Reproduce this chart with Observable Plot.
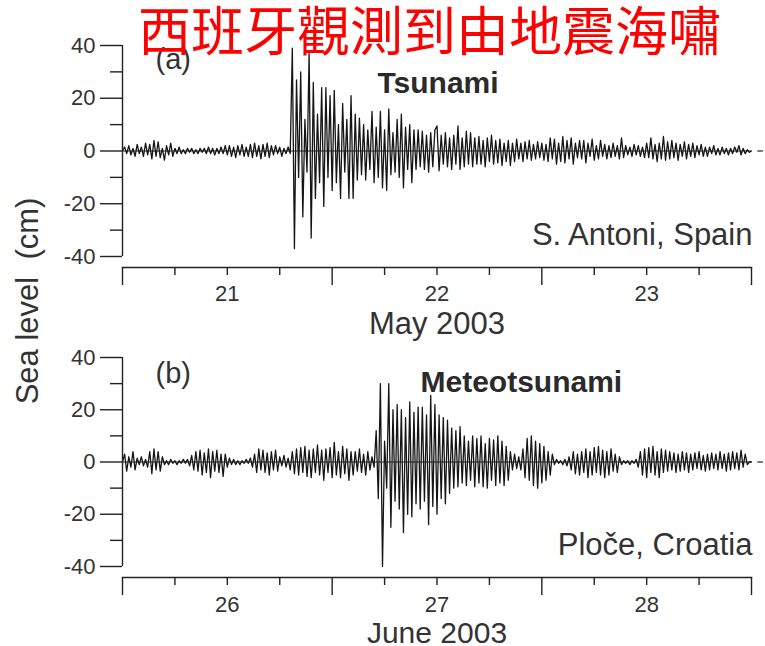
<!DOCTYPE html>
<html><head><meta charset="utf-8">
<script src="https://cdn.jsdelivr.net/npm/d3@7"></script>
<script src="https://cdn.jsdelivr.net/npm/@observablehq/plot@0.6"></script>
<style>
body{margin:0;background:#fff;}
#wrap{position:relative;width:765px;height:646px;overflow:hidden;font-family:"Liberation Sans",Arial,sans-serif;}
#title{position:absolute;left:138px;top:2px;font-family:"Noto Sans CJK TC","Noto Sans CJK SC",sans-serif;font-size:53px;line-height:1;color:#ff0000;white-space:nowrap;z-index:5;}
#ylab{position:absolute;left:28px;top:301px;transform:translate(-50%,-50%) rotate(-90deg);font-size:31px;color:#333;white-space:pre;z-index:4;}
.panel{position:absolute;left:0;}
</style></head>
<body><div id="wrap">
<div id="title">西班牙觀測到由地震海嘯</div>
<div id="ylab">Sea level  (cm)</div>
<div id="pa" class="panel" style="top:0"></div>
<div id="pb" class="panel" style="top:330px"></div>
</div>
<script>
// ---- data (cm), sampled every 0.01 day ----
const stepDay = 0.01;
const startA = 20.5;   // May 2003
const startB = 25.5;   // June 2003
const daysA = [21, 22, 23];
const daysB = [26, 27, 28];
const monthA = "May 2003";
const monthB = "June 2003";
const tsunami = [
0,1.5,-1,2,-1.5,1,-2,2.5,-1,1.5,
-2,3,-1.5,2.5,-3,4,-2,3.5,-2.5,1,
-3.5,2,-1.5,3,-2,1,-1,1.5,-1,0.5,
-1,1,-0.5,1,-1,0.5,-1,1,-0.5,1,
-1,1.5,-1,1,-1.5,1,-1,1.5,-1,2,
-1.5,2,-2,1.5,-2.5,2,-1.5,2.5,-2,1.5,
-2,2.5,-2.5,3,-2,2,-3,2.5,-2,3,
-2.5,2,-1.5,2,-1,1.5,-2,1,-1,1.5,
-1,39,-37,27,-10,30,-25,12,-8,37,
-33,26,-18,14,-12,24,-21,24,-10,21,
-15,23,-12,10,-18,18,-8,12,-18,21,
-18,14,-11,12.5,-9,10,-11,8,-7,15,
-12,9,-10,15,-14,8,-15,16,-9,7,
-8,12,-10,14,-14,9,-7,10,-12,8,
-7,8,-6,7.5,-7,6,-8,7,-6,8,
9.5,-7.5,6,-5,7,-6,5,-7,6,-5,
9.5,-7,5,-6,7.5,-5,7,-6,5,-5,
5.5,-5,4,-6,5,-4,6,-5,4,-4.5,
4.5,-5.5,3,-4,4,-5.5,3,-4,4.5,-3,
3,-4,3.5,-3,4,-3.5,2.5,-3,3.5,-2.5,
3,-3.5,2.5,-4,5,-3,4.5,-5,3,-4,
5.5,-4.5,4,-3,5,-5,3,-2.5,4,-3,
4,-4.5,3,-2,4.5,-3.5,2,-3,4,-2,
2.5,-3,2,-2.5,3,-2,2,-3,5,-2.5,
2,-1.5,1.5,-2,2.5,-1.5,2,-2,1.5,-2.5,
3,-2.5,5,-3,2.5,-4,3,-3,5.5,-3.5,
3.5,-3,4,-2.5,3,-3.5,2.5,-2,3.5,-3,
2.5,-2,3,-2.5,2,-1.5,2.5,-2,1.5,-2,
1.5,-1,2,-1.5,1,-1.5,1.5,-1,1,-1.5,
1,-1,1.5,-0.5,2,-1.5,1,-1,0.5,-0.5,
0];
const meteotsunami = [
0,3,-3.5,2,-2,4,-3,1.5,-1,2,
-1.5,1,-2,4,-4.5,5,-3,4,-3.5,2,
-1,0.5,-1,1,-0.5,0.5,-1,0.5,-0.5,1,
-0.5,1,-1.5,2.5,-3,4,-3.5,4.5,-5,3.5,
-4,5,-6,4,-3.5,4.5,-4,3,-5.5,3,
-2,1.5,-1,1,-1,0.5,-1,0.5,-0.5,1,
-0.5,1.5,-2,3,-4,5,-3,4.5,-4,3.5,
-5,4,-3,4.5,-3.5,2,-1.5,2.5,-2,1.5,
-3,4,-4.5,5,-5,5.5,-4,6,-5.5,4.5,
-6,5,-4,6.5,-5,4.5,-7,5,-4,5.5,
-6,7.5,-5,4,-6,6,-4.5,5,-7,4,
-5,4,-3.5,5,-4,3,-5,4,-3,2,
-2,12,-14,30,-40,8,-10,30,-25,20,
-15,22,-18,20,-27,17,-20,23,-21,19,
-16,21,-18,21,-15,18,-24,25.5,-17,22,
-20,18,-14,17,-16,16,-12,13,-10,12,
-9.5,13.5,-8,10,-9,8,-7,10,-9.5,9,
-8,10,-9.5,7,-10,9,-7,8.5,-9,10,
-8,8,-9,6,-7,4,-3,3,-2.5,2,
-3,5,-6,9,-7,10,-9,8,-10,7,
-8,6,-7,4,-5,3,-1,1,-0.5,0.5,
-1,1,-1.5,2,-3,4,-4.5,3,-5,4,
-4,5,-6,4,-5,5.5,-4,6,-5,4.5,
-6,4,-5,5,-3.5,3,-4,2,-1,0.5,
-0.5,0.5,-1,0.5,-0.5,1,-2,4,-5,5,
-6,5.5,-4,6,-5,4,-6,5,-4,4.5,
-3.5,4,-3,3.5,-4,3,-3.5,4,-3,3.5,
-4,3,-3,3.5,-2.5,4,-3,2.5,-3.5,3,
-3,3.5,-2.5,3,-3,4,-2.5,3,-3.5,3.5,
-3,4,-2.5,3.5,-3,4.5,-2,3,-1,0,
0];
const yMajor = [-40, -20, 0, 20, 40];
const yMinor = [-30, -10, 10, 30];

function panel({values, start, days, month, monthSize, monthDy, tag, name, place, height, top, bottom, tagDy, nameDx, nameDy, placeDy, labPad}) {
  const rows = values.map((v, i) => ({t: start + i * stepDay, v}));
  const x0 = start, x1 = start + 3;
  const q = d3.range(0, 13).map(i => x0 + i * 0.25);
  const longT = q.filter(d => Math.abs((d % 1) - 0.5) < 1e-6);
  const shortT = q.filter(d => Math.abs((d % 1) - 0.5) >= 1e-6);
  const ink = "#222", txt = "#333";
  const fmt = d => String(d);
  return Plot.plot({
    width: 765, height,
    marginLeft: 122, marginRight: 14, marginTop: top, marginBottom: height - bottom,
    x: {domain: [x0, x1], label: null},
    y: {domain: [-40, 40], range: [bottom - 11, top], label: null},
    style: {fontFamily: "Liberation Sans, Arial, sans-serif", color: txt, background: "transparent", overflow: "visible"},
    marks: [
      Plot.ruleY([0], {stroke: ink, strokeWidth: 1}),
      Plot.ruleY([0], {x1: x1 + 0.03, x2: x1 + 0.057, stroke: ink, strokeWidth: 1.2}),
      Plot.line(rows, {x: "t", y: "v", stroke: "#151515", strokeWidth: 1.3}),
      Plot.ruleX([x0], {y1: -40, y2: 40, stroke: ink, strokeWidth: 1.4}),
      Plot.axisY(yMajor, {tickSize: 22, tickPadding: 5, fontSize: 22, tickFormat: fmt, label: null, strokeWidth: 1.4, stroke: ink}),
      Plot.axisY(yMinor, {tickSize: 12, tickFormat: () => "", label: null, strokeWidth: 1.4, stroke: ink}),
      Plot.frame({anchor: "bottom", stroke: ink, strokeWidth: 1.4}),
      Plot.axisX(shortT, {tickSize: 8, tickFormat: () => "", label: null, strokeWidth: 1.4, stroke: ink}),
      Plot.axisX(longT, {tickSize: 18, tickFormat: () => "", label: null, strokeWidth: 1.4, stroke: ink}),
      Plot.axisX(days, {tickSize: 0, tickPadding: labPad, fontSize: 22, tickFormat: fmt, label: null}),
      Plot.text([month], {text: d => d, frameAnchor: "bottom", lineAnchor: "top", dy: monthDy, fontSize: monthSize, fill: txt}),
      Plot.text([tag], {text: d => d, frameAnchor: "top-left", textAnchor: "start", lineAnchor: "top", dx: 33, dy: tagDy, fontSize: 29, fill: txt}),
      Plot.text([name], {text: d => d, frameAnchor: "top-left", textAnchor: "start", lineAnchor: "top", dx: nameDx, dy: nameDy, fontSize: 30, fontWeight: "bold", fill: "#2a2a2a"}),
      Plot.text([place], {text: d => d, frameAnchor: "top-right", textAnchor: "end", lineAnchor: "top", dx: 1, dy: placeDy, fontSize: 31, fill: txt})
    ]
  });
}

document.getElementById("pa").append(panel({
  values: tsunami, start: startA, days: daysA, month: monthA, monthSize: 31, monthDy: 44,
  tag: "(a)", name: "Tsunami", place: "S. Antoni, Spain",
  height: 330, top: 45, bottom: 267, tagDy: 3, nameDx: 255, nameDy: 26, placeDy: 177, labPad: 18
}));
document.getElementById("pb").append(panel({
  values: meteotsunami, start: startB, days: daysB, month: monthB, monthSize: 30, monthDy: 44,
  tag: "(b)", name: "Meteotsunami", place: "Ploče, Croatia",
  height: 316, top: 27, bottom: 247, tagDy: 5, nameDx: 298, nameDy: 13, placeDy: 175, labPad: 19
}));
</script>
</body></html>
